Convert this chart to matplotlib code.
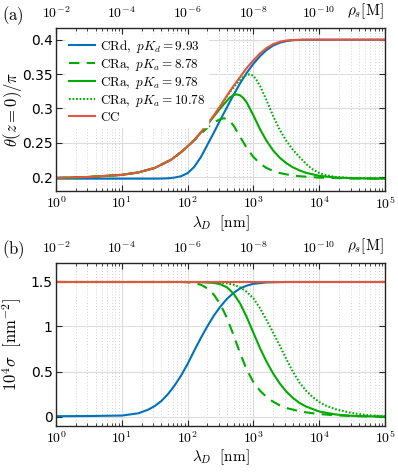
import numpy as np
import matplotlib
matplotlib.use('Agg')
from matplotlib import pyplot as plt

### DATA (x values are log10 of lambda_D in nm)
# panel (a): theta(z=0)/pi
cc_a_x = [0, 0.5, 1.0, 1.25, 1.5, 1.75, 1.9, 2.0, 2.1, 2.2, 2.3, 2.4, 2.5, 2.6, 2.7, 2.8, 2.9,
          3.0, 3.1, 3.2, 3.3, 3.4, 3.5, 3.6, 3.75, 4.0, 5.0]
cc_a_y = [0.1990, 0.2005, 0.2035, 0.2070, 0.2135, 0.2255, 0.2365, 0.2450, 0.2540, 0.2650, 0.2770,
          0.2900, 0.3040, 0.3190, 0.3330, 0.3460, 0.3590, 0.3700, 0.3800, 0.3880, 0.3935, 0.3970,
          0.3988, 0.3996, 0.4000, 0.4000, 0.4000]

crd_a_x = [0, 1.5, 1.6, 1.7, 1.8, 1.9, 2.0, 2.1, 2.2, 2.3, 2.4, 2.5, 2.6, 2.7, 2.8, 2.9, 3.0,
           3.1, 3.2, 3.3, 3.4, 3.5, 3.6, 3.75, 4.0, 5.0]
crd_a_y = [0.1980, 0.1980, 0.1981, 0.1985, 0.1995, 0.2015, 0.2060, 0.2150, 0.2290, 0.2470, 0.2650,
           0.2840, 0.3020, 0.3200, 0.3370, 0.3520, 0.3650, 0.3760, 0.3850, 0.3915, 0.3955, 0.3980,
           0.3992, 0.3999, 0.4000, 0.4000]

cra1_a_x = [0, 0.5, 1.0, 1.25, 1.5, 1.75, 1.9, 2.0, 2.1, 2.2, 2.3, 2.4, 2.5, 2.55, 2.6, 2.65, 2.7,
            2.8, 2.9, 3.0, 3.1, 3.2, 3.3, 3.4, 3.5, 3.7, 4.0, 4.5, 5.0]
cra1_a_y = [0.1990, 0.2005, 0.2035, 0.2070, 0.2135, 0.2255, 0.2365, 0.2450, 0.2535, 0.2630, 0.2720,
            0.2800, 0.2845, 0.2857, 0.2848, 0.2810, 0.2750, 0.2585, 0.2425, 0.2295, 0.2200, 0.2135,
            0.2092, 0.2062, 0.2042, 0.2015, 0.1995, 0.1983, 0.1980]

cra2_a_x = [0, 0.5, 1.0, 1.25, 1.5, 1.75, 1.9, 2.0, 2.1, 2.2, 2.3, 2.4, 2.5, 2.6, 2.65, 2.7, 2.75,
            2.8, 2.85, 2.9, 3.0, 3.1, 3.2, 3.3, 3.4, 3.5, 3.6, 3.7, 3.8, 4.0, 4.25, 4.5, 5.0]
cra2_a_y = [0.1990, 0.2005, 0.2035, 0.2070, 0.2135, 0.2255, 0.2365, 0.2450, 0.2540, 0.2650, 0.2765,
            0.2885, 0.3005, 0.3115, 0.3165, 0.3195, 0.3205, 0.3190, 0.3150, 0.3085, 0.2900, 0.2700,
            0.2530, 0.2390, 0.2285, 0.2205, 0.2145, 0.2100, 0.2065, 0.2020, 0.1997, 0.1986, 0.1980]

cra3_a_x = [0, 0.5, 1.0, 1.25, 1.5, 1.75, 1.9, 2.0, 2.1, 2.2, 2.3, 2.4, 2.5, 2.6, 2.7, 2.8, 2.85,
            2.9, 2.95, 3.0, 3.05, 3.1, 3.2, 3.3, 3.4, 3.5, 3.6, 3.7, 3.8, 3.9, 4.0, 4.1, 4.25,
            4.5, 5.0]
cra3_a_y = [0.1990, 0.2005, 0.2035, 0.2070, 0.2135, 0.2255, 0.2365, 0.2450, 0.2540, 0.2650, 0.2770,
            0.2900, 0.3040, 0.3185, 0.3310, 0.3420, 0.3462, 0.3490, 0.3498, 0.3475, 0.3410, 0.3330,
            0.3120, 0.2890, 0.2690, 0.2530, 0.2400, 0.2295, 0.2195, 0.2115, 0.2062, 0.2030, 0.2005,
            0.1988, 0.1980]

# panel (b): 10^4 sigma [nm^-2]
cc_b_x = [0, 5.0]
cc_b_y = [1.49, 1.49]

crd_b_x = [0, 0.5, 1.0, 1.25, 1.4, 1.5, 1.6, 1.7, 1.8, 1.9, 2.0, 2.1, 2.2, 2.3, 2.4, 2.5, 2.6,
           2.7, 2.8, 2.9, 3.0, 3.2, 3.5, 4.0, 5.0]
crd_b_y = [0.008, 0.010, 0.015, 0.040, 0.080, 0.120, 0.175, 0.250, 0.345, 0.455, 0.585, 0.730,
           0.870, 1.000, 1.120, 1.220, 1.305, 1.370, 1.420, 1.450, 1.470, 1.485, 1.490, 1.490, 1.490]

cra1_b_x = [0, 1.9, 2.0, 2.1, 2.2, 2.3, 2.4, 2.5, 2.6, 2.7, 2.8, 2.9, 3.0, 3.1, 3.2, 3.3, 3.4,
            3.5, 3.75, 4.0, 4.25, 4.5, 5.0]
cra1_b_y = [1.490, 1.490, 1.487, 1.478, 1.460, 1.420, 1.350, 1.240, 1.090, 0.900, 0.700, 0.520,
            0.385, 0.290, 0.220, 0.168, 0.128, 0.098, 0.055, 0.032, 0.018, 0.010, 0.002]

cra2_b_x = [0, 2.0, 2.2, 2.4, 2.5, 2.6, 2.7, 2.8, 2.9, 3.0, 3.1, 3.2, 3.3, 3.4, 3.5, 3.6, 3.7,
            3.8, 4.0, 4.25, 4.5, 5.0]
cra2_b_y = [1.490, 1.490, 1.488, 1.480, 1.465, 1.430, 1.360, 1.250, 1.100, 0.930, 0.760, 0.610,
            0.480, 0.370, 0.280, 0.210, 0.155, 0.115, 0.060, 0.027, 0.012, 0.002]

cra3_b_x = [0, 2.2, 2.4, 2.5, 2.6, 2.7, 2.8, 2.9, 3.0, 3.1, 3.2, 3.3, 3.4, 3.5, 3.6, 3.7, 3.8,
            3.9, 4.0, 4.1, 4.25, 4.5, 4.75, 5.0]
cra3_b_y = [1.490, 1.490, 1.487, 1.483, 1.475, 1.460, 1.430, 1.380, 1.310, 1.200, 1.070, 0.930,
            0.790, 0.640, 0.500, 0.380, 0.290, 0.220, 0.165, 0.125, 0.085, 0.042, 0.018, 0.008]

legend_labels = [r'$\mathrm{CRd},\ pK_d = 9.93$', r'$\mathrm{CRa},\ pK_a = 8.78$',
                 r'$\mathrm{CRa},\ pK_a = 9.78$', r'$\mathrm{CRa},\ pK_a = 10.78$', r'$\mathrm{CC}$']
top_tick_labels = [r'$10^{-2}$', r'$10^{-4}$', r'$10^{-6}$', r'$10^{-8}$', r'$10^{-10}$', '']

### STYLE
plt.rcParams['mathtext.fontset'] = 'cm'
plt.rcParams['font.size'] = 10
blue = '#0072BD'
green = '#00AA00'
red = '#E4553E'
frame = '#262626'
tick_fs = 10
ylabel_fs = 12

fig = plt.figure(figsize=(3.98, 4.74), dpi=100)
ax_a = fig.add_axes([0.1407, 0.597, 0.8266, 0.3439])
ax_b = fig.add_axes([0.1407, 0.1013, 0.8266, 0.3439])


def lam(e):
    return 10.0 ** np.asarray(e)


def style_axes(ax, yticks, yticklabels, ylim):
    ax.set_xscale('log')
    ax.set_xlim(1, 1e5)
    ax.set_ylim(*ylim)
    ax.set_yticks(yticks)
    ax.set_yticklabels(yticklabels)
    ax.set_xticks([1, 10, 100, 1e3, 1e4, 1e5])
    ax.set_xticklabels([r'$10^{%d}$' % i for i in range(6)])
    ax.grid(which='major', color='#dcdcdc', lw=0.8, ls='-')
    ax.grid(which='minor', axis='x', color='#c4c4c4', lw=0.6, ls=(0, (1, 2.5)))
    ax.set_axisbelow(True)
    ax.tick_params(which='both', direction='in', right=True, top=False, colors=frame,
                   labelcolor='k', labelsize=tick_fs)
    ax.tick_params(which='major', length=4)
    ax.tick_params(which='minor', length=2)
    ax.tick_params(axis='y', pad=2.5)
    ax.tick_params(axis='x', pad=3)
    for s in ax.spines.values():
        s.set_color(frame)
        s.set_linewidth(1.0)
    ax.set_xlabel(r'$\lambda_D\ \ [\mathrm{nm}]$', fontsize=11, labelpad=1)

    top = ax.twiny()
    top.set_xscale('log')
    top.set_xlim(1, 1e5)
    top.set_xticks([1, 10, 100, 1e3, 1e4, 1e5])
    top.set_xticklabels(top_tick_labels)
    top.tick_params(which='both', direction='in', colors=frame, labelcolor='k',
                    labelsize=tick_fs, pad=5)
    top.tick_params(which='major', length=4)
    top.tick_params(which='minor', length=2)
    for s in top.spines.values():
        s.set_visible(False)
    top.text(0.995, 1.045, r'$\rho_s[\mathrm{M}]$', transform=ax.transAxes, ha='right', va='bottom',
             fontsize=11)
    return top


lw = 1.5
ax_a.plot(lam(crd_a_x), crd_a_y, color=blue, lw=lw, label=legend_labels[0])
ax_a.plot(lam(cra1_a_x), cra1_a_y, color=green, lw=lw, ls=(0, (5, 3.5)), label=legend_labels[1])
ax_a.plot(lam(cra2_a_x), cra2_a_y, color=green, lw=lw, label=legend_labels[2])
ax_a.plot(lam(cra3_a_x), cra3_a_y, color=green, lw=lw, ls=(0, (0.8, 0.9)), label=legend_labels[3])
ax_a.plot(lam(cc_a_x), cc_a_y, color=red, lw=lw, label=legend_labels[4])
style_axes(ax_a, [0.2, 0.25, 0.3, 0.35, 0.4], ['0.2', '0.25', '0.3', '0.35', '0.4'], (0.18, 0.417))
ax_a.set_ylabel(r'$\theta(z=0)/\pi$', fontsize=ylabel_fs)
ax_a.yaxis.set_label_coords(-0.098, 0.5)
leg = ax_a.legend(loc='upper left', bbox_to_anchor=(0.03, 0.955), fontsize=9.5, frameon=True,
                  fancybox=False, edgecolor='white', framealpha=1, handlelength=2.0,
                  labelspacing=0.15, borderpad=0.2, handletextpad=0.4, borderaxespad=0)

ax_b.plot(lam(crd_b_x), crd_b_y, color=blue, lw=lw)
ax_b.plot(lam(cra1_b_x), cra1_b_y, color=green, lw=lw, ls=(0, (5, 3.5)))
ax_b.plot(lam(cra2_b_x), cra2_b_y, color=green, lw=lw)
ax_b.plot(lam(cra3_b_x), cra3_b_y, color=green, lw=lw, ls=(0, (0.8, 0.9)))
ax_b.plot(lam(cc_b_x), cc_b_y, color=red, lw=lw)
style_axes(ax_b, [0, 0.5, 1, 1.5], ['0', '0.5', '1', '1.5'], (-0.1, 1.7))
ax_b.set_ylabel(r'$10^4\sigma\ \ [\mathrm{nm}^{-2}]$', fontsize=ylabel_fs)
ax_b.yaxis.set_label_coords(-0.098, 0.5)

fig.text(0.006, 0.992, r'$\mathrm{(a)}$', fontsize=12, ha='left', va='top')
fig.text(0.006, 0.497, r'$\mathrm{(b)}$', fontsize=12, ha='left', va='top')

fig.savefig('out.png', dpi=100)
